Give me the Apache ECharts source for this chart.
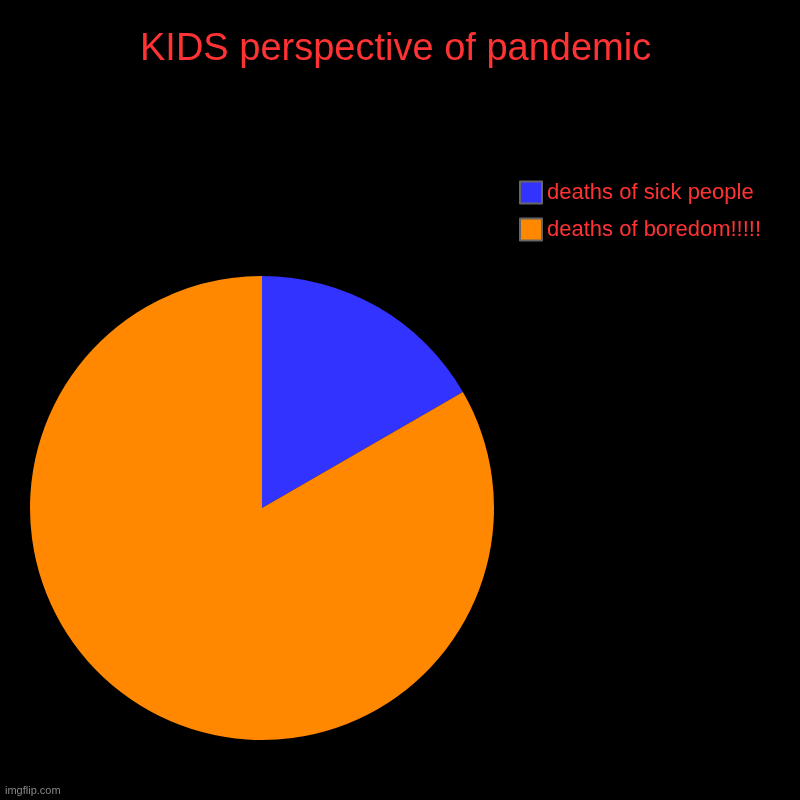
<!DOCTYPE html>
<html>
<head>
<meta charset="utf-8">
<script src="https://cdn.jsdelivr.net/npm/echarts@6/dist/echarts.min.js"></script>
<style>
  html, body { margin: 0; padding: 0; background: #000; }
  #chart { width: 800px; height: 800px; }
</style>
</head>
<body>
<div id="chart"></div>
<script>
var categories = ['deaths of sick people', 'deaths of boredom!!!!!'];
var values = [1, 5];
var colors = ['#3333ff', '#ff8800'];

var myChart = echarts.init(document.getElementById('chart'));
var option = {
	backgroundColor: '#000',
	animation: false,
	title: {
		text: 'KIDS perspective of pandemic',
		left: 135,
		top: 26,
		textStyle: {
			color: '#ff3333',
			fontSize: 38,
			fontWeight: 'normal',
			fontFamily: 'Liberation Sans'
		}
	},
	legend: {
		orient: 'vertical',
		left: 514,
		top: 175,
		itemWidth: 22,
		itemHeight: 22,
		itemGap: 12,
		itemTextGap: 10,
		icon: 'rect',
		data: categories,
		textStyle: {
			color: '#ff3333',
			fontSize: 22,
			lineHeight: 23,
			padding: [2, 0, 0, 0],
			fontFamily: 'Liberation Sans'
		},
		itemStyle: {
			borderColor: '#666',
			borderWidth: 2
		}
	},
	graphic: [{
		type: 'text',
		left: 5,
		top: 785,
		style: {
			text: 'imgflip.com',
			fill: '#888',
			fontSize: 11,
			fontFamily: 'Liberation Sans'
		}
	}],
	series: [{
		type: 'pie',
		center: [262, 508],
		radius: 232,
		startAngle: 90,
		clockwise: true,
		label: { show: false },
		labelLine: { show: false },
		emphasis: { disabled: true },
		data: categories.map(function (name, i) {
			return { name: name, value: values[i], itemStyle: { color: colors[i] } };
		})
	}]
};
myChart.setOption(option);
</script>
</body>
</html>
